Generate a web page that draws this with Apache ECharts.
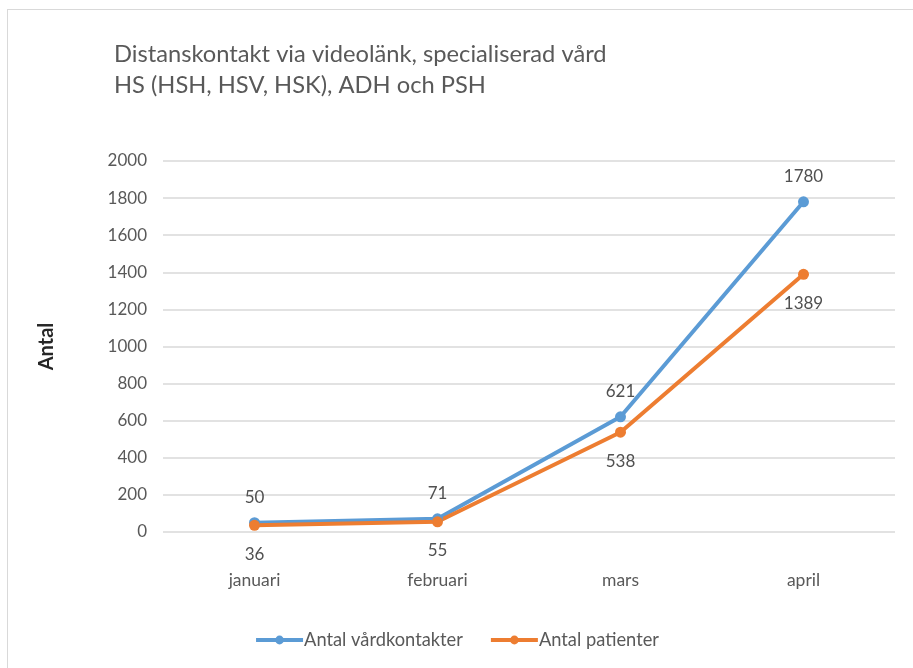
<!DOCTYPE html>
<html><head><meta charset="utf-8">
<script src="https://cdn.jsdelivr.net/npm/echarts@6/dist/echarts.min.js"></script>
<style>html,body{margin:0;padding:0;background:#fff}#c{width:913px;height:668px}
#frame{position:absolute;left:7px;top:9px;width:920px;height:700px;border:1px solid #d9d9d9;pointer-events:none}</style>
</head><body><div id="c"></div><div id="frame"></div>
<script>
const categories = ['januari', 'februari', 'mars', 'april'];
const vardkontakter = [50, 71, 621, 1780];
const patienter = [36, 55, 538, 1389];
const yTicks = {min: 0, max: 2000, interval: 200};

const FONT = 'Lato, "Open Sans", sans-serif';
const chart = echarts.init(document.getElementById('c'));
chart.setOption({
  animation: false,
  backgroundColor: '#fff',
  title: {
    text: 'Distanskontakt via videolänk, specialiserad vård\nHS (HSH, HSV, HSK), ADH och PSH',
    left: 109, top: 34,
    textStyle: {fontFamily: FONT, fontSize: 23.7, fontWeight: 'normal', color: '#595959', lineHeight: 31}
  },
  grid: {left: 163, right: 18, top: 161, bottom: 136},
  legend: {
    bottom: 14, left: 'center',
    itemWidth: 47, itemHeight: 11, itemGap: 26,
    lineStyle: {width: 4},
    textStyle: {fontFamily: FONT, fontSize: 18.3, color: '#595959', padding: [0,0,0,-4]},
    data: ['Antal vårdkontakter', 'Antal patienter']
  },
  xAxis: {
    type: 'category', data: categories, boundaryGap: true,
    axisLine: {show: false}, axisTick: {show: false},
    axisLabel: {fontFamily: FONT, fontSize: 17.5, color: '#595959', margin: 39}
  },
  yAxis: {
    type: 'value', min: yTicks.min, max: yTicks.max, interval: yTicks.interval,
    name: 'Antal', nameLocation: 'middle', nameGap: 106, nameRotate: 90,
    nameTextStyle: {fontFamily: FONT, fontSize: 20, fontWeight: 'bold', color: '#262626'},
    axisLine: {show: false}, axisTick: {show: false},
    axisLabel: {fontFamily: FONT, fontSize: 17, color: '#595959', margin: 16, formatter: v => String(v)},
    splitLine: {lineStyle: {color: '#d9d9d9', width: 1.5}}
  },
  series: [
    {
      name: 'Antal vårdkontakter', type: 'line', data: vardkontakter,
      symbol: 'circle', symbolSize: 11,
      lineStyle: {width: 4, color: '#5B9BD5'}, itemStyle: {color: '#5B9BD5'},
      label: {show: true, position: 'top', distance: 11, fontFamily: FONT, fontSize: 17, color: '#505050'}
    },
    {
      name: 'Antal patienter', type: 'line', data: patienter,
      symbol: 'circle', symbolSize: 11,
      lineStyle: {width: 4, color: '#ED7D31'}, itemStyle: {color: '#ED7D31'},
      label: {show: true, position: 'bottom', distance: 15, fontFamily: FONT, fontSize: 17, color: '#505050'}
    }
  ]
});
</script></body></html>
